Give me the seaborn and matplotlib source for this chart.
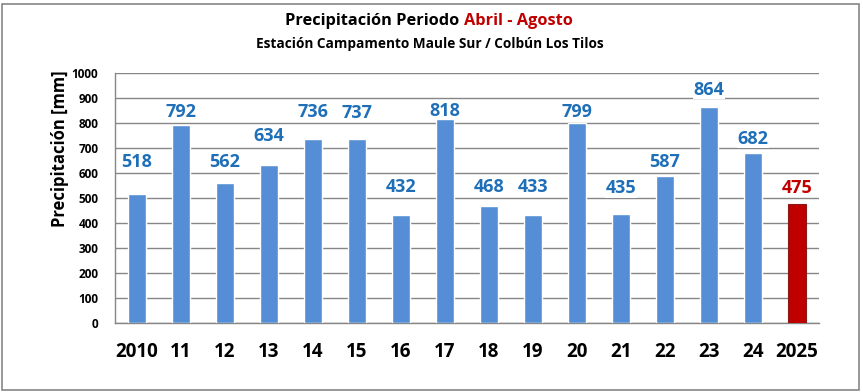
import matplotlib
matplotlib.use('Agg')
import matplotlib.pyplot as plt
import matplotlib.patches as patches
import seaborn as sns

# datos
anios = ['2010', '11', '12', '13', '14', '15', '16', '17', '18', '19', '20', '21', '22', '23', '24', '2025']
precip = [518, 792, 562, 634, 736, 737, 432, 818, 468, 433, 799, 435, 587, 864, 682, 475]
# altura (en mm) donde va cada etiqueta de valor
altura_etiqueta = [645, 845, 645, 748, 845, 840, 545, 849, 543, 545, 845, 539, 645, 932, 736, 540]

azul = '#558ED5'
rojo = '#C00000'
gris = '#868686'
colores = [azul] * (len(anios) - 1) + [rojo]

sns.set_style('white')
plt.rcParams['font.family'] = ['Open Sans', 'DejaVu Sans']
plt.rcParams['font.weight'] = 'bold'

fig = plt.figure(figsize=(8.63, 3.92), dpi=100)
ax = fig.add_axes([115 / 863, 69 / 392, 704 / 863, 250 / 392])

sns.barplot(x=anios, y=precip, hue=anios, palette=colores, legend=False,
            width=0.43, saturation=1, ax=ax, zorder=3)
# borde del ultimo bar
ax.patches[-1].set_edgecolor('#8B1A1A')
ax.patches[-1].set_linewidth(0.8)

for i, (v, h) in enumerate(zip(precip, altura_etiqueta)):
    c = rojo if i == len(anios) - 1 else '#1F6FB8'
    ax.text(i, h, str(v), ha='center', va='center', fontsize=13,
            fontweight='bold', color=c, zorder=5,
            bbox=dict(facecolor='white', edgecolor='none', pad=0.3))

ax.set_ylim(0, 1000)
ax.set_xlim(-0.5, len(anios) - 0.5)
ax.set_yticks(range(0, 1001, 100))
ax.yaxis.grid(True, color=gris, linewidth=1, zorder=0)
ax.set_axisbelow(True)
for s in ['top', 'right']:
    ax.spines[s].set_visible(False)
for s in ['left', 'bottom']:
    ax.spines[s].set_color(gris)
    ax.spines[s].set_linewidth(1)
ax.tick_params(axis='y', labelsize=8.5, length=0, pad=12, labelcolor='black')
ax.tick_params(axis='x', labelsize=13.5, length=0, pad=14, labelcolor='black')
for t in ax.get_yticklabels() + ax.get_xticklabels():
    t.set_fontweight('bold')
ax.set_xlabel('')
ax.set_ylabel('Precipitación [mm]', fontsize=12, fontweight='bold', color='black')
ax.yaxis.set_label_coords(-0.066, 0.696)

# titulo en dos colores
fig.text(459 / 863, 1 - 21 / 392, 'Precipitación Periodo', ha='right', va='center',
         fontsize=11.8, fontweight='bold', color='black')
fig.text(464 / 863, 1 - 21 / 392, 'Abril - Agosto', ha='left', va='center',
         fontsize=11.8, fontweight='bold', color=rojo)
fig.text(430 / 863, 1 - 44 / 392, 'Estación Campamento Maule Sur / Colbún Los Tilos',
         ha='center', va='center', fontsize=9.8, fontweight='bold', color='black')

# marco de la figura
fig.patches.append(patches.Rectangle((2 / 863, 2 / 392), 857 / 863, 386 / 392,
                                     transform=fig.transFigure, fill=False,
                                     edgecolor=gris, linewidth=1.2))

fig.savefig('out.png', dpi=100, facecolor='white')
